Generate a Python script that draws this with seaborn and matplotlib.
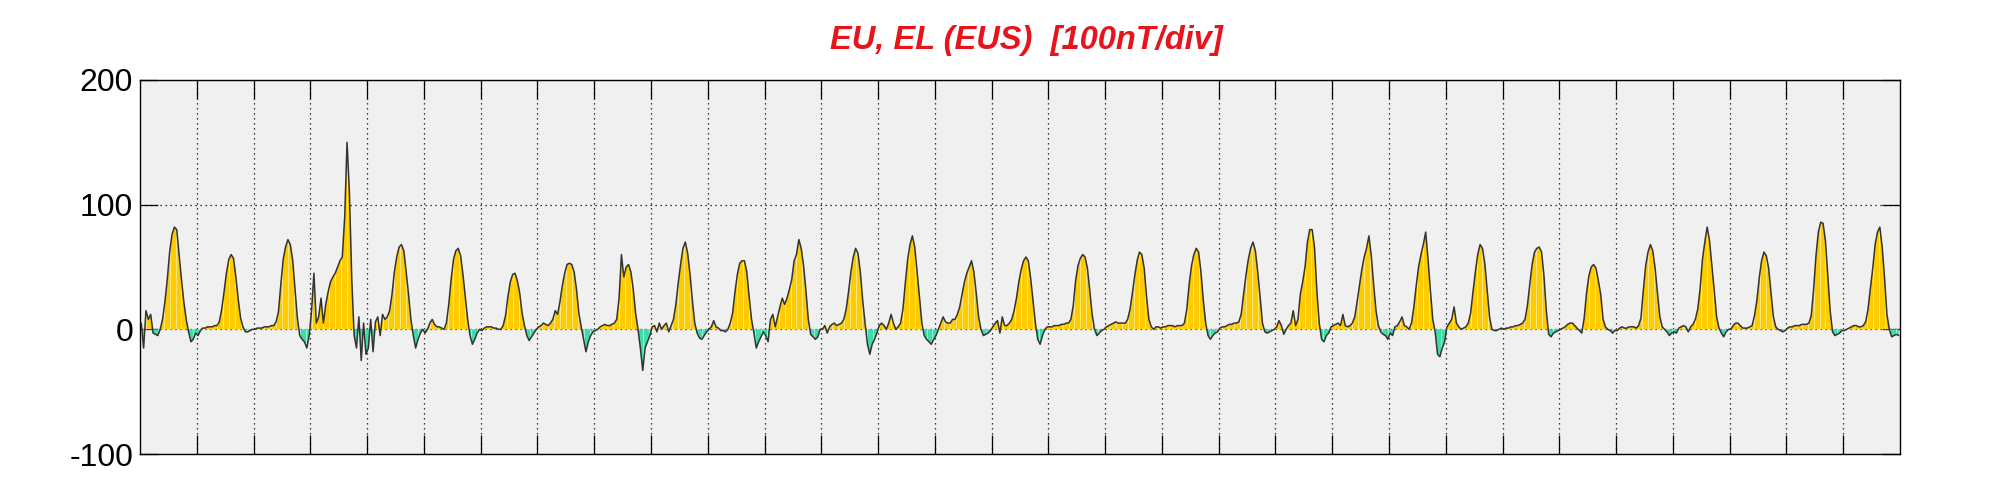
import numpy as np
import pandas as pd
import matplotlib
matplotlib.use("Agg")
import matplotlib.pyplot as plt
from matplotlib.path import Path
import seaborn as sns

# ── hourly EU/EL values (nT), one list per day ──────────────────────────────
day01 = [5, -15, 15, 8, 12, -3, -4, -5, 0, 8, 22, 40, 62, 76, 82, 80, 60, 40, 22, 8, -2, -10, -8, -3]
day02 = [-5, -1, 1, 1, 2, 2, 2, 3, 3, 6, 16, 30, 45, 56, 60, 57, 42, 24, 9, 2, -2, -2, -1, 0]
day03 = [0, 1, 1, 1, 2, 2, 2, 3, 3, 6, 14, 36, 56, 66, 72, 68, 56, 32, 9, -5, -8, -10, -15, -5]
day04 = [15, 45, 5, 10, 25, 5, 20, 30, 38, 42, 45, 50, 55, 58, 90, 150, 110, 40, -5, -15, 10, -25, 5, -20]
day05 = [-15, 8, -18, 6, 10, -5, 12, 8, 10, 15, 28, 46, 58, 66, 68, 63, 46, 28, 8, -5, -15, -8, -3, 0]
day06 = [-3, 0, 5, 8, 4, 2, 2, 1, 0, 5, 20, 40, 56, 63, 65, 59, 44, 26, 8, -5, -12, -8, -3, 0]
day07 = [-1, 1, 2, 2, 2, 1, 1, 0, 0, 3, 11, 26, 38, 44, 45, 39, 29, 13, 3, -5, -9, -6, -3, 0]
day08 = [2, 3, 5, 4, 3, 5, 8, 15, 12, 22, 35, 45, 52, 53, 52, 46, 32, 13, 2, -8, -18, -10, -5, -2]
day09 = [-1, 0, 2, 3, 4, 3, 3, 4, 5, 8, 25, 60, 42, 50, 52, 46, 32, 13, 0, -15, -33, -15, -10, -5]
day10 = [2, 3, -2, 5, 0, 3, 5, -2, 3, 8, 20, 37, 52, 65, 70, 61, 44, 23, 5, -3, -7, -8, -5, -2]
day11 = [0, 2, 7, 2, 1, -1, -1, -2, 0, 5, 13, 30, 44, 53, 55, 55, 46, 26, 8, -3, -15, -10, -6, -2]
day12 = [-5, -10, 8, 12, 2, 10, 18, 25, 20, 25, 32, 40, 55, 60, 72, 65, 51, 31, 8, -4, -6, -8, -6, 0]
day13 = [0, 3, -3, 2, 4, 5, 3, 4, 5, 8, 16, 30, 46, 58, 65, 61, 46, 23, 5, -12, -20, -12, -8, -3]
day14 = [3, 5, 3, 0, 5, 12, 5, 0, 2, 5, 16, 37, 56, 68, 75, 66, 46, 26, 5, -5, -8, -10, -12, -8]
day15 = [-5, 0, 5, 10, 6, 5, 5, 8, 8, 12, 18, 28, 38, 45, 50, 55, 46, 29, 10, 0, -5, -4, -3, -1]
day16 = [2, 5, 7, -3, 10, 3, 3, 5, 8, 15, 25, 38, 48, 55, 58, 55, 41, 23, 5, -8, -12, -5, 0, 2]
day17 = [2, 2, 3, 3, 3, 4, 4, 5, 5, 8, 19, 39, 51, 57, 60, 58, 49, 31, 12, 0, -5, -3, -1, 0]
day18 = [2, 3, 4, 5, 6, 5, 5, 5, 5, 8, 16, 29, 43, 55, 62, 60, 49, 26, 8, 2, 0, 2, 2, 1]
day19 = [2, 2, 3, 3, 3, 2, 3, 3, 3, 5, 16, 36, 51, 60, 65, 62, 46, 23, 5, -5, -8, -5, -3, -2]
day20 = [1, 2, 2, 3, 4, 4, 5, 5, 6, 12, 28, 43, 56, 65, 70, 63, 46, 26, 5, -2, -3, -2, -1, 0]
day21 = [2, 7, 3, -4, 0, 3, 5, 15, 3, 8, 28, 38, 50, 70, 80, 80, 66, 31, 5, -8, -10, -5, -3, 2]
day22 = [3, 4, 5, 3, 12, 3, 2, 3, 5, 10, 22, 35, 48, 58, 65, 75, 59, 36, 15, 3, -2, -4, -5, -8]
day23 = [-3, -5, 2, 3, 6, 10, 3, 2, 0, 5, 18, 35, 50, 60, 68, 78, 56, 31, 8, -2, -20, -22, -15, -10]
day24 = [2, 5, 8, 18, 5, 2, 0, 1, 2, 5, 13, 30, 46, 60, 68, 65, 53, 31, 10, 0, -1, -1, 0, 1]
day25 = [0, 1, 1, 2, 2, 3, 3, 4, 5, 8, 19, 36, 52, 62, 65, 66, 62, 43, 15, -4, -6, -3, -2, -1]
day26 = [0, 1, 2, 4, 5, 5, 3, 1, -1, -3, 9, 29, 43, 50, 52, 49, 39, 28, 8, 2, 0, -1, -3, -1]
day27 = [-1, 1, 2, 1, 1, 2, 2, 2, 1, 3, 9, 31, 51, 62, 68, 63, 49, 29, 10, 2, 0, -2, -5, -3]
day28 = [-2, -3, 1, 2, 3, 2, -2, 2, 4, 8, 16, 32, 56, 70, 82, 71, 51, 31, 10, 1, -3, -6, -2, 0]
day29 = [0, 3, 5, 5, 3, 1, 1, 1, 2, 3, 11, 23, 41, 55, 62, 59, 49, 29, 10, 2, 0, -1, -2, -1]
day30 = [1, 2, 2, 3, 3, 3, 4, 4, 4, 5, 11, 32, 59, 78, 86, 85, 71, 43, 15, -2, -5, -4, -3, -1]
day31 = [-1, 0, 1, 2, 3, 3, 2, 2, 3, 6, 16, 33, 49, 68, 78, 82, 66, 41, 12, 0, -6, -5, -4, -5]

days = [day01, day02, day03, day04, day05, day06, day07, day08, day09, day10,
        day11, day12, day13, day14, day15, day16, day17, day18, day19, day20,
        day21, day22, day23, day24, day25, day26, day27, day28, day29, day30, day31]

y_ticks = [-100, 0, 100, 200]
title = "EU, EL (EUS)  [100nT/div]"

# ── frame ────────────────────────────────────────────────────────────────────
vals = np.concatenate([np.asarray(d, float) for d in days])
n_hours = len(vals)
df = pd.DataFrame({"hour": np.arange(n_hours) + 0.5, "nT": vals})

sns.set_style("ticks")
plt.rcParams["font.family"] = ["Liberation Sans", "DejaVu Sans"]

fig = plt.figure(figsize=(20.01, 5.0), dpi=100)
ax = fig.add_axes([0.07, 0.092, 0.8795, 0.748])
ax.set_facecolor("#f0f0f0")

pos = ax.fill_between(df["hour"], 0, df["nT"], where=df["nT"] >= 0,
                      interpolate=True, color="#ffcc00", linewidth=0, zorder=2)
neg = ax.fill_between(df["hour"], 0, df["nT"], where=df["nT"] <= 0,
                      interpolate=True, color="#3fdcaa", linewidth=0, zorder=2)

# faint white striping inside the filled areas
for coll in (pos, neg):
    paths = coll.get_paths()
    if not paths:
        continue
    clip = Path.make_compound_path(*paths)
    stripes = ax.vlines(np.arange(0, n_hours, 2.5), -100, 200, colors="white",
                        linewidth=0.6, alpha=0.6, zorder=2.5)
    stripes.set_clip_path(clip, ax.transData)

sns.lineplot(data=df, x="hour", y="nT", ax=ax, color="#333333",
             linewidth=1.1, zorder=3)

ax.set_xlim(0, n_hours)
ax.set_ylim(-100, 200)
ax.set_xticks(np.arange(24, n_hours, 24))
ax.set_xticklabels([])
ax.set_yticks(y_ticks)
ax.set_yticklabels([str(t) for t in y_ticks], fontsize=23, color="black")
ax.set_xlabel("")
ax.set_ylabel("")

ax.grid(True, color="black", linestyle=(0, (1, 3)), linewidth=0.9)
ax.set_axisbelow(True)
ax.tick_params(axis="x", direction="in", length=14, width=0.9,
               top=True, bottom=True, color="black")
ax.tick_params(axis="y", direction="in", length=13, width=0.9,
               left=True, right=True, pad=5, color="black")
for s in ax.spines.values():
    s.set_linewidth(1.0)
    s.set_color("black")

fig.text(0.513, 0.918, title, color="#e8141c", fontsize=23.5,
         fontweight="bold", fontstyle="italic", ha="center", va="center")

fig.savefig("out.png", dpi=100, facecolor="white")
